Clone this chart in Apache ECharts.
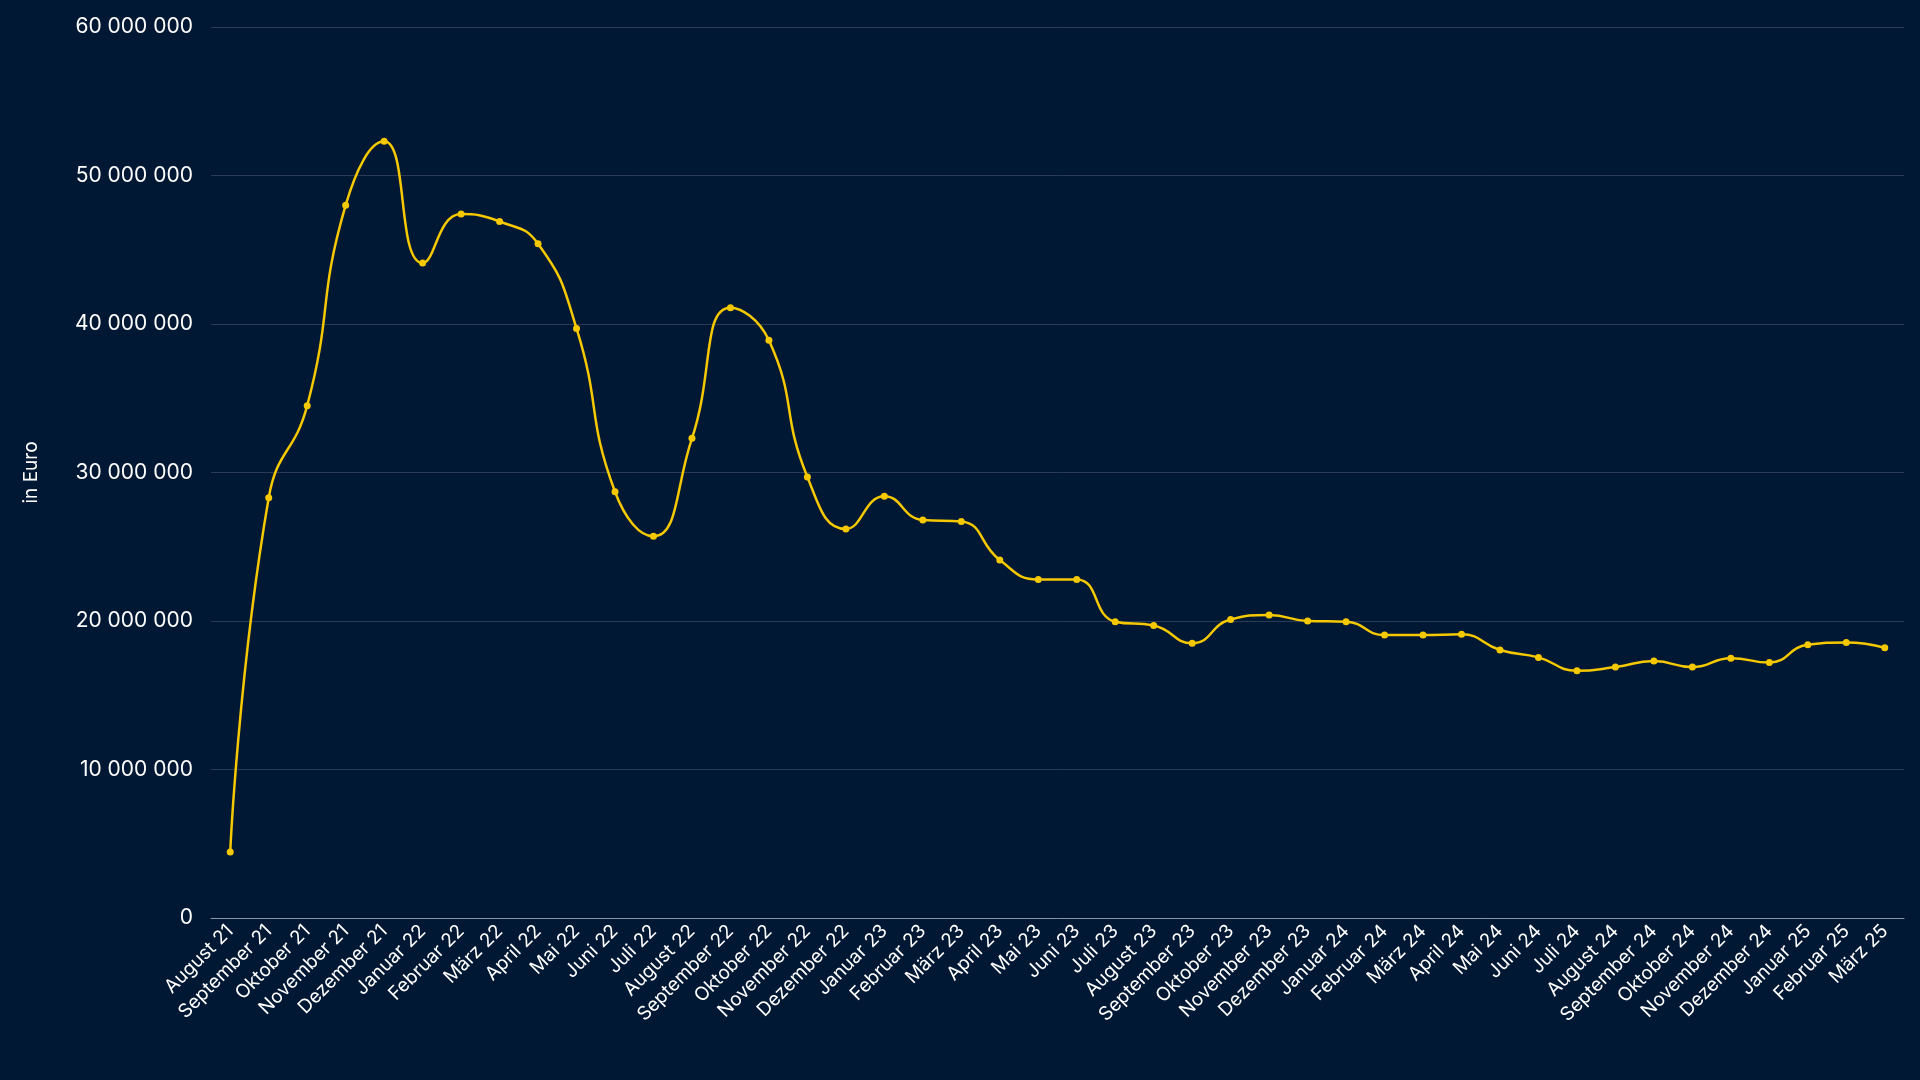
<!DOCTYPE html>
<html><head><meta charset="utf-8">
<script src="https://cdn.jsdelivr.net/npm/echarts@6/dist/echarts.min.js"></script>
<style>html,body{margin:0;padding:0;background:#001833;}#chart{width:1920px;height:1080px;}</style>
</head><body><div id="chart"></div>
<script>
var months = ['August 21','September 21','Oktober 21','November 21','Dezember 21','Januar 22','Februar 22','März 22','April 22','Mai 22','Juni 22','Juli 22','August 22','September 22','Oktober 22','November 22','Dezember 22','Januar 23','Februar 23','März 23','April 23','Mai 23','Juni 23','Juli 23','August 23','September 23','Oktober 23','November 23','Dezember 23','Januar 24','Februar 24','März 24','April 24','Mai 24','Juni 24','Juli 24','August 24','September 24','Oktober 24','November 24','Dezember 24','Januar 25','Februar 25','März 25'];
var values = [4450000,28300000,34500000,48000000,52300000,44100000,47400000,46900000,45400000,39700000,28700000,25700000,32300000,41100000,38900000,29700000,26200000,28400000,26800000,26700000,24100000,22800000,22800000,19950000,19700000,18500000,20100000,20400000,20000000,19950000,19050000,19050000,19100000,18050000,17550000,16650000,16900000,17300000,16900000,17500000,17200000,18400000,18550000,18200000];

var chart = echarts.init(document.getElementById('chart'));
function fmt(v){ return String(v).replace(/\B(?=(\d{3})+(?!\d))/g,' '); }
var option = {
    backgroundColor: '#001833',
    textStyle: { fontFamily: 'Inter' },
    grid: { left: 211, right: 16, top: 27, bottom: 162 },
    xAxis: {
        type: 'category',
        data: months,
        boundaryGap: ['1%','1%'],
        axisLine: { lineStyle: { color: '#8a96a8' } },
        axisTick: { show: false },
        axisLabel: { color: '#ffffff', fontSize: 19, rotate: 45, interval: 0, margin: 10 }
    },
    yAxis: {
        type: 'value',
        min: 0, max: 60000000, interval: 10000000,
        name: 'in Euro',
        nameLocation: 'middle',
        nameGap: 170,
        nameTextStyle: { color: '#ffffff', fontSize: 19 },
        axisLabel: { color: '#ffffff', fontSize: 21, formatter: fmt, margin: 18 },
        splitLine: { lineStyle: { color: '#2a3c55', width: 1 } }
    },
    series: [{
        type: 'line',
        data: values,
        smooth: true,
        symbol: 'circle',
        symbolSize: 7,
        lineStyle: { color: '#f5c800', width: 2.5 },
        itemStyle: { color: '#f5c800' }
    }]
};
chart.setOption(option);
</script></body></html>
